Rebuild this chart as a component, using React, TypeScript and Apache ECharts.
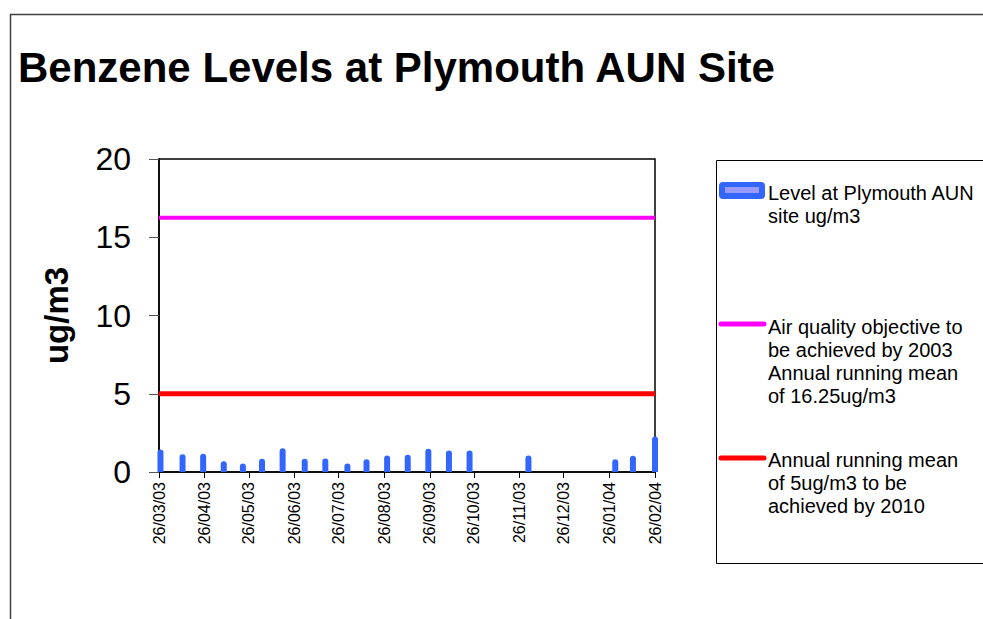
import React, { useEffect, useRef } from "react";
import * as echarts from "echarts";

const chartTitle = "Benzene Levels at Plymouth AUN Site";
const startDate = "26/03/03";
const endDate = "26/02/04";
const tickLabels = [
  "26/03/03", "26/04/03", "26/05/03", "26/06/03", "26/07/03", "26/08/03",
  "26/09/03", "26/10/03", "26/11/03", "26/12/03", "26/01/04", "26/02/04",
];
const sampleDates = [
  "27/03/03", "11/04/03", "25/04/03", "09/05/03", "22/05/03", "04/06/03",
  "18/06/03", "03/07/03", "17/07/03", "01/08/03", "14/08/03", "28/08/03",
  "11/09/03", "25/09/03", "09/10/03", "23/10/03", "02/12/03", "30/01/04",
  "11/02/04", "26/02/04",
];
const sampleValues = [
  1.43, 1.13, 1.17, 0.68, 0.55, 0.85, 1.51, 0.85, 0.87, 0.55, 0.81, 1.06,
  1.1, 1.49, 1.38, 1.38, 1.06, 0.81, 1.04, 2.27,
];
const objective2003 = 16.25;
const objective2010 = 5;
const yTicks = [0, 5, 10, 15, 20];
const seriesNames = [
  "Level at Plymouth AUN site ug/m3",
  "Air quality objective to be achieved by 2003 Annual running mean of 16.25ug/m3",
  "Annual running mean of 5ug/m3 to be achieved by 2010",
];
const legendTexts = [
  "Level at Plymouth AUN\nsite ug/m3",
  "Air quality objective to\nbe achieved by 2003\nAnnual running mean\nof 16.25ug/m3",
  "Annual running mean\nof 5ug/m3 to be\nachieved by 2010",
];

const FONT = "'Liberation Sans', Arial, Helvetica, sans-serif";

function parseDate(s: string): number {
  const [d, m, y] = s.split("/").map((v) => parseInt(v, 10));
  return Date.UTC(2000 + y, m - 1, d);
}
function fmt(t: number): string {
  const dt = new Date(t);
  const dd = String(dt.getUTCDate()).padStart(2, "0");
  const mm = String(dt.getUTCMonth() + 1).padStart(2, "0");
  const yy = String(dt.getUTCFullYear() % 100).padStart(2, "0");
  return `${dd}/${mm}/${yy}`;
}

function buildCategories(): string[] {
  const out: string[] = [];
  const end = parseDate(endDate);
  for (let t = parseDate(startDate); t <= end; t += 86400000) out.push(fmt(t));
  return out;
}

export default function App() {
  const ref = useRef<HTMLDivElement>(null);
  useEffect(() => {
    if (!ref.current) return;
    const chart = echarts.init(ref.current, null, { renderer: "svg" });
    const categories = buildCategories();
    const last = categories.length - 1;
    const barData = categories.map((c) => {
      const idx = sampleDates.indexOf(c);
      return idx >= 0 ? sampleValues[idx] : null;
    });
    const flat = (v: number) => categories.map((_, i) => (i === 0 || i === last ? v : null));
    const isTick = (_i: number, v: string) => tickLabels.indexOf(v) >= 0;

    chart.setOption({
      animation: false,
      backgroundColor: "#ffffff",
      title: {
        text: chartTitle,
        left: 18,
        top: 46,
        padding: 0,
        textStyle: { fontFamily: FONT, fontSize: 42, fontWeight: "bold", color: "#000", lineHeight: 42 },
      },
      grid: {
        left: 159,
        top: 159,
        right: 328,
        bottom: 147,
        show: true,
        borderColor: "#000",
        borderWidth: 1.5,
        backgroundColor: "transparent",
      },
      xAxis: {
        type: "category",
        data: categories,
        boundaryGap: false,
        axisLine: { lineStyle: { color: "#000", width: 1.5 } },
        axisTick: { show: true, interval: isTick, length: 6, lineStyle: { color: "#000" } },
        axisLabel: {
          interval: isTick,
          rotate: 90,
          margin: 10,
          fontSize: 16,
          fontFamily: FONT,
          color: "#000",
        },
        splitLine: { show: false },
      },
      yAxis: {
        type: "value",
        min: yTicks[0],
        max: yTicks[yTicks.length - 1],
        interval: 5,
        name: "ug/m3",
        nameLocation: "middle",
        nameGap: 86,
        nameTextStyle: { fontFamily: FONT, fontSize: 33, fontWeight: "bold", color: "#000" },
        axisLine: { show: true, lineStyle: { color: "#000", width: 1.5 } },
        axisTick: { show: true, length: 10, lineStyle: { color: "#555" } },
        axisLabel: { fontSize: 32, fontFamily: FONT, color: "#000", margin: 28 },
        splitLine: { show: false },
      },
      series: [
        {
          name: seriesNames[0],
          type: "bar",
          data: barData,
          barWidth: 6,
          clip: false,
          itemStyle: { color: "#3366FF", borderRadius: [3, 3, 0, 0] },
          z: 3,
        },
        {
          name: seriesNames[1],
          type: "line",
          data: flat(objective2003),
          connectNulls: true,
          showSymbol: false,
          symbol: "none",
          lineStyle: { color: "#FF00FF", width: 4 },
          z: 2,
        },
        {
          name: seriesNames[2],
          type: "line",
          data: flat(objective2010),
          connectNulls: true,
          showSymbol: false,
          symbol: "none",
          lineStyle: { color: "#FF0000", width: 5 },
          z: 2,
        },
      ],
      graphic: [
        {
          type: "polyline",
          shape: { points: [[10.5, 619], [10.5, 14.5], [983, 14.5]] },
          style: { stroke: "#404040", lineWidth: 1.5, fill: null },
          silent: true,
        },
        {
          type: "polyline",
          shape: { points: [[983, 160.5], [716.5, 160.5], [716.5, 563.5], [983, 563.5]] },
          style: { stroke: "#000", lineWidth: 1, fill: null },
          silent: true,
        },
        {
          type: "rect",
          shape: { x: 719, y: 182, width: 46, height: 17, r: 4 },
          style: { fill: "#3366FF" },
          silent: true,
        },
        {
          type: "rect",
          shape: { x: 725, y: 187, width: 34, height: 6 },
          style: { fill: "#9999FF" },
          silent: true,
        },
        {
          type: "line",
          shape: { x1: 721, y1: 324, x2: 764, y2: 324 },
          style: { stroke: "#FF00FF", lineWidth: 5, lineCap: "round" },
          silent: true,
        },
        {
          type: "line",
          shape: { x1: 721, y1: 458, x2: 764, y2: 458 },
          style: { stroke: "#FF0000", lineWidth: 5, lineCap: "round" },
          silent: true,
        },
        {
          type: "text",
          x: 768,
          y: 181,
          style: { text: legendTexts[0], font: `20px ${FONT}`, fill: "#000", lineHeight: 23, verticalAlign: "top" },
          silent: true,
        },
        {
          type: "text",
          x: 768,
          y: 315,
          style: { text: legendTexts[1], font: `20px ${FONT}`, fill: "#000", lineHeight: 23, verticalAlign: "top" },
          silent: true,
        },
        {
          type: "text",
          x: 768,
          y: 448,
          style: { text: legendTexts[2], font: `20px ${FONT}`, fill: "#000", lineHeight: 23, verticalAlign: "top" },
          silent: true,
        },
      ],
    });
    return () => chart.dispose();
  }, []);
  return (
    <div
      ref={ref}
      style={{ position: "absolute", left: 0, top: 0, width: 983, height: 619, background: "#fff" }}
    />
  );
}
